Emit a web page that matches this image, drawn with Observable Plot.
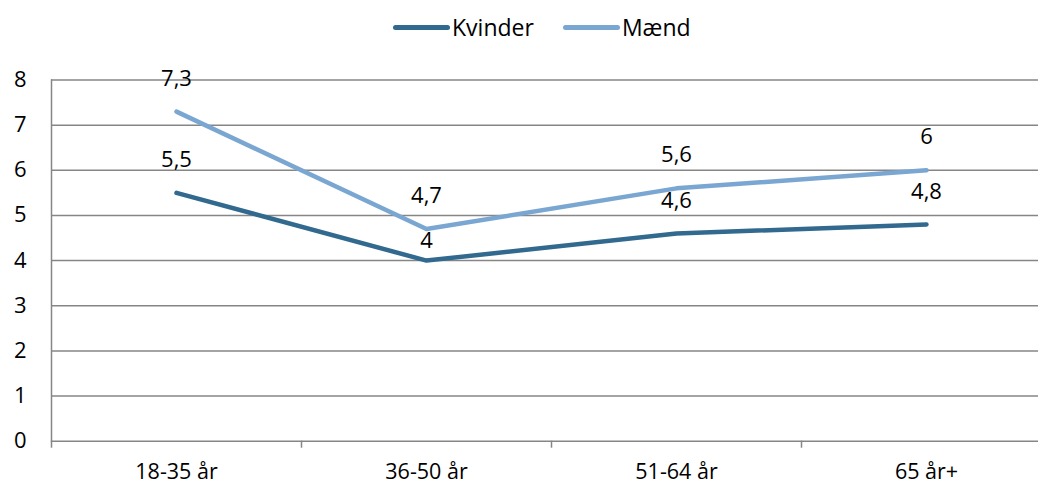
<!DOCTYPE html>
<html><head><meta charset="utf-8">
<script src="https://cdn.jsdelivr.net/npm/d3@7"></script>
<script src="https://cdn.jsdelivr.net/npm/@observablehq/plot@0.6"></script>
<style>
body{margin:0;background:#fff;font-family:"Open Sans",sans-serif;}
#legend{height:54px;display:flex;align-items:center;padding-left:393px;font-size:23px;color:#000;}
.item{display:flex;align-items:center;margin-right:29px;}
.sw{width:57px;height:5px;border-radius:3px;margin-right:2px;}
#chart svg{display:block;}
</style></head><body>
<div id="legend"></div><div id="chart"></div>
<script>
const categories = ["18-35 år","36-50 år","51-64 år","65 år+"];
const kvinder = [5.5, 4, 4.6, 4.8];
const maend = [7.3, 4.7, 5.6, 6];
const seriesNames = ["Kvinder","Mænd"];
const colors = ["#31698F","#7AA6D2"];
const yTicks = [0,1,2,3,4,5,6,7,8];

const data = categories.flatMap((c,i)=>[
  {category:c, series:seriesNames[0], value:kvinder[i], other:maend[i]},
  {category:c, series:seriesNames[1], value:maend[i], other:kvinder[i]}
]);
const fmt = v => String(v).replace(".", ",");

const legend = document.getElementById("legend");
seriesNames.forEach((s,i)=>{
  const it = document.createElement("div"); it.className="item";
  const sw = document.createElement("div"); sw.className="sw"; sw.style.background=colors[i];
  const t = document.createElement("span"); t.textContent=s;
  it.appendChild(sw); it.appendChild(t); legend.appendChild(it);
});

const width = 1038, height = 431;
const xRange = [51, 1051];
const bw = (xRange[1]-xRange[0]) / categories.length;
const gray = "#868686";

const chart = Plot.plot({
  width, height,
  marginLeft: 51, marginRight: 0, marginTop: 25.5, marginBottom: 44.3,
  style: {fontFamily: '"Open Sans", sans-serif', fontSize: "22px", color: "#000", background: "#fff", overflow: "visible"},
  x: {type: "band", domain: categories, range: xRange, padding: 0, label: null},
  y: {domain: [0, 8], label: null},
  color: {domain: seriesNames, range: colors},
  marks: [
    Plot.ruleY(yTicks, {stroke: gray, strokeWidth: 1.5}),
    Plot.frame({anchor: "left", stroke: gray, strokeWidth: 1.5}),
    Plot.axisY({ticks: yTicks, tickSize: 0, tickPadding: 25, fontSize: 22, label: null}),
    Plot.axisX({tickSize: 0, tickPadding: 23, fontSize: 21.5, label: null}),
    Plot.axisX({tickSize: 7, tickFormat: () => "", dx: -bw/2, stroke: gray, strokeWidth: 1.5, label: null}),
    Plot.line(data, {x: "category", y: "value", stroke: "series", strokeWidth: 4.5, z: "series"}),
    Plot.text(data.filter(d => !(d.series === seriesNames[0] && d.other - d.value < 1)),
      {x: "category", y: "value", text: d => fmt(d.value), dy: -33, fontSize: 22, fill: "#000"}),
    Plot.text(data.filter(d => d.series === seriesNames[0] && d.other - d.value < 1),
      {x: "category", y: "value", text: d => fmt(d.value), dy: -20, fontSize: 22, fill: "#000"})
  ]
});
document.getElementById("chart").appendChild(chart);
</script>
</body></html>
